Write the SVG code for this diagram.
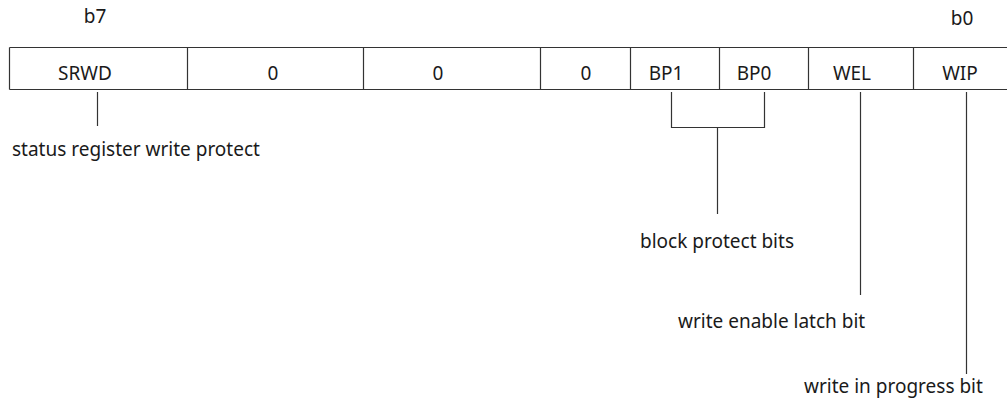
<svg xmlns="http://www.w3.org/2000/svg" width="1007" height="403" viewBox="0 0 1007 403">
<style>
text{font-family:"Noto Sans","Open Sans","Liberation Sans",sans-serif;font-size:19px;fill:#1a1a1a}
.c{text-anchor:middle}
.ln{stroke:#333;stroke-width:1.2;fill:none}
</style>
<rect width="1007" height="403" fill="#fff"/>
<g id="labels-bits">
<text class="c" x="95" y="23">b7</text>
<text class="c" x="962" y="25">b0</text>
</g>
<g id="register">
<path class="ln" d="M9.5,47.5 H1010 M9.5,89.5 H1010 M9.5,47.5 V89.5 M187.5,47.5 V89.5 M363.5,47.5 V89.5 M540.5,47.5 V89.5 M630.5,47.5 V89.5 M719.5,47.5 V89.5 M808.5,47.5 V89.5 M913.5,47.5 V89.5"/>
</g>
<g id="cell-srwd"><text class="c" x="85" y="80">SRWD</text></g>
<g id="cell-b6"><text class="c" x="273" y="80">0</text></g>
<g id="cell-b5"><text class="c" x="438" y="80">0</text></g>
<g id="cell-b4"><text class="c" x="586" y="80">0</text></g>
<g id="cell-bp1"><text class="c" x="666" y="80">BP1</text></g>
<g id="cell-bp0"><text class="c" x="754" y="80">BP0</text></g>
<g id="cell-wel"><text class="c" x="852" y="80">WEL</text></g>
<g id="cell-wip"><text class="c" x="960" y="80">WIP</text></g>
<g id="connectors">
<path class="ln" d="M97.5,92 V126"/>
<path class="ln" d="M671.5,92 V127.5 H764.5 V92 M717.5,127.5 V214"/>
<path class="ln" d="M860.5,92 V295"/>
<path class="ln" d="M966.5,92 V374"/>
</g>
<g id="desc-srwd"><text x="12" y="156">status register write protect</text></g>
<g id="desc-bp"><text x="640" y="248">block protect bits</text></g>
<g id="desc-wel"><text x="678" y="328">write enable latch bit</text></g>
<g id="desc-wip"><text x="804" y="393">write in progress bit</text></g>
</svg>
